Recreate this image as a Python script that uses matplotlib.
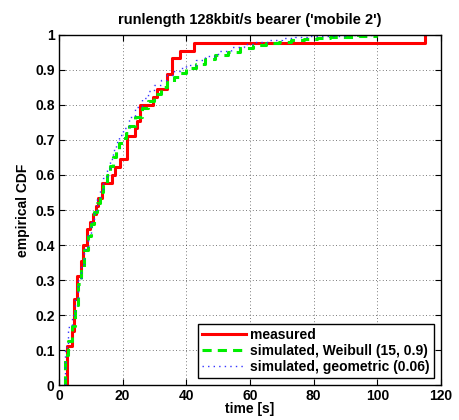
import numpy as np
import matplotlib
matplotlib.use("Agg")
import matplotlib.pyplot as plt

plt.rcParams['font.family'] = ['Liberation Sans', 'DejaVu Sans']
plt.rcParams['font.weight'] = 'bold'

# measured runlengths [s]
measured = [2.4] * 5 + [4.0] * 2 + [4.7] * 4 + [5.8] * 3 + [6.8] * 2 + [7.6] * 2 \
    + [8.7] * 2 + [9.7, 10.6, 11.6, 12.4] + [13.4] * 2 + [16.6, 17.6, 19.2] \
    + [21.5] * 3 + [23.9, 24.6] + [25.5] * 2 + [29.7, 30.7] + [33.9] * 2 \
    + [35.4] * 2 + [38.0, 42.5, 115.0]

# simulated CDFs, Weibull (15, 0.9)
weib_t = [2, 3, 4, 5, 6, 7, 8, 9, 10, 11, 12, 13, 14, 15, 16, 17, 18, 19, 20, 21, 22,
          24, 26, 28, 30, 32, 34, 36, 38, 40, 43, 46, 49, 53, 57, 61, 65, 69, 73, 77,
          81, 85, 90, 94, 98, 99.7]
weib_f = [0.085, 0.125, 0.17, 0.23, 0.29, 0.335, 0.385, 0.425, 0.46, 0.495, 0.52, 0.55,
          0.575, 0.6, 0.625, 0.65, 0.67, 0.69, 0.705, 0.72, 0.74, 0.765, 0.79, 0.81, 0.83,
          0.85, 0.865, 0.88, 0.89, 0.905, 0.918, 0.93, 0.942, 0.952, 0.962, 0.971, 0.976,
          0.981, 0.986, 0.989, 0.991, 0.993, 0.995, 0.997, 0.998, 1.0]

# simulated CDFs, geometric (0.06)
geo_t = [2, 3, 4, 5, 6, 7, 8, 9, 10, 11, 12, 13, 14, 15, 16, 17, 18, 19, 20, 22, 24, 26,
         28, 30, 32, 34, 36, 38, 40, 43, 46, 50, 54, 58, 62, 66, 70, 74, 78, 82, 90, 99.7]
geo_f = [0.11, 0.165, 0.2, 0.25, 0.3, 0.345, 0.39, 0.43, 0.465, 0.5, 0.53, 0.56, 0.59,
         0.62, 0.645, 0.67, 0.695, 0.715, 0.735, 0.765, 0.795, 0.82, 0.84, 0.857, 0.872,
         0.885, 0.897, 0.905, 0.915, 0.928, 0.94, 0.955, 0.965, 0.974, 0.981, 0.987,
         0.991, 0.994, 0.997, 0.998, 0.999, 1.0]

# empirical CDF of the measured values
xs = np.sort(np.array(measured))
ux, counts = np.unique(xs, return_counts=True)
ecdf = np.cumsum(counts) / len(xs)
mx = np.concatenate([[ux[0]], ux])
my = np.concatenate([[0.0], ecdf])

fig = plt.figure(figsize=(4.6, 4.2), dpi=100)
ax = fig.add_axes([0.128, 0.0833, 0.831, 0.8334])

ax.step(mx, my, where='post', color='red', lw=2.2, label='measured')
ax.step([weib_t[0]] + weib_t, [0.0] + weib_f, where='post', color='#00ee00',
        lw=2.2, ls=(0, (3, 2)), label='simulated, Weibull (15, 0.9)')
ax.step([geo_t[0]] + geo_t, [0.0] + geo_f, where='post', color='#3333ff',
        lw=1.0, ls=(0, (1, 3)), label='simulated, geometric (0.06)')

ax.set_xlim(0, 120)
ax.set_ylim(0, 1)
ax.set_xticks(np.arange(0, 121, 20))
ax.set_yticks(np.round(np.arange(0, 1.01, 0.1), 1))
ax.set_yticklabels(['0', '0.1', '0.2', '0.3', '0.4', '0.5', '0.6', '0.7', '0.8', '0.9', '1'])
ax.tick_params(direction='in', top=True, right=True, labelsize=10, length=4, width=0.8,
               pad=3)
ax.grid(True, color='black', ls=(0, (1, 3)), lw=0.6, alpha=0.7)
for s in ax.spines.values():
    s.set_linewidth(1.0)

ax.set_xlabel('time [s]', fontsize=10, fontweight='bold', labelpad=-1)
ax.set_ylabel('empirical CDF', fontsize=10, fontweight='bold', labelpad=4)
ax.set_title("runlength 128kbit/s bearer ('mobile 2')", fontsize=10.5, fontweight='bold', pad=8)

leg = ax.legend(loc='lower right', fontsize=10, fancybox=False, framealpha=1,
                edgecolor='black', handlelength=3.2, borderaxespad=0.5,
                borderpad=0.3, labelspacing=0.15, handletextpad=0.3)
leg.get_frame().set_linewidth(1.0)

fig.savefig('out.png', dpi=100)
